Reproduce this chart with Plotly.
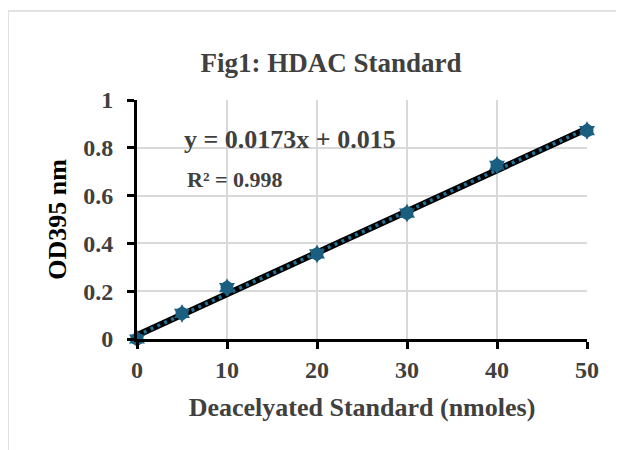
import plotly.graph_objects as go

x_vals = [0, 5, 10, 20, 30, 40, 50]
y_vals = [0, 0.107, 0.215, 0.356, 0.527, 0.727, 0.872]
slope = 0.0173
intercept = 0.015
x_ticks = [0, 10, 20, 30, 40, 50]
y_ticks = [0, 0.2, 0.4, 0.6, 0.8, 1]
y_tick_text = ["0", "0.2", "0.4", "0.6", "0.8", "1"]

FONT = "Liberation Serif"
W, H = 624, 450
L, R, T, B = 129, 45, 92, 119
pw, ph = W - L - R, H - T - B

fit_x = [min(x_vals), max(x_vals)]
fit_y = [slope * v + intercept for v in fit_x]

MC = "#1B5F80"
fig = go.Figure()
fig.add_trace(go.Scatter(x=fit_x, y=fit_y, mode="lines", cliponaxis=False,
                         line=dict(color="black", width=6.5), hoverinfo="skip", showlegend=False))
fig.add_trace(go.Scatter(x=fit_x, y=fit_y, mode="lines", cliponaxis=False,
                         line=dict(color="#24739A", width=3.5, dash="3px,4.5px"), hoverinfo="skip", showlegend=False))
fig.add_trace(go.Scatter(x=x_vals, y=y_vals, mode="markers", cliponaxis=False,
                         marker=dict(symbol="circle", size=13, color=MC, line=dict(width=0)),
                         hoverinfo="skip", showlegend=False))
fig.add_trace(go.Scatter(x=x_vals, y=y_vals, mode="markers", cliponaxis=False,
                         marker=dict(symbol="hexagram", size=14, color=MC, line=dict(width=0)),
                         showlegend=False))

fig.update_layout(
    width=W, height=H,
    margin=dict(l=L, r=R, t=T, b=B),
    paper_bgcolor="white", plot_bgcolor="white",
    title=dict(text="<b>Fig1: HDAC Standard</b>", x=323 / W, xanchor="center",
               y=1 - 55 / H, yanchor="middle",
               font=dict(family=FONT, size=27, color="#404040")),
    font=dict(family=FONT),
)
fig.update_xaxes(range=[0, 50], tickvals=x_ticks, ticktext=[f"<b>{v}</b>" for v in x_ticks],
                 showgrid=True, gridcolor="#d9d9d9", gridwidth=1.5,
                 showline=True, linecolor="black", linewidth=3,
                 ticks="outside", ticklen=7, tickwidth=3, tickcolor="black",
                 tickfont=dict(family=FONT, size=24, color="#404040"),
                 zeroline=False,
                 title=dict(text="<b>Deacelyated Standard (nmoles)</b>",
                            font=dict(family=FONT, size=26, color="#404040"), standoff=17))
fig.update_yaxes(range=[0, 1], tickvals=y_ticks, ticktext=[f"<b>{t}</b>" for t in y_tick_text],
                 showgrid=True, gridcolor="#d9d9d9", gridwidth=1.5,
                 showline=True, linecolor="black", linewidth=3,
                 ticks="outside", ticklen=7, tickwidth=3, tickcolor="black",
                 ticklabelstandoff=9,
                 tickfont=dict(family=FONT, size=24, color="#404040"),
                 zeroline=False,
                 title=dict(text="<b>OD395 nm</b>",
                            font=dict(family=FONT, size=26, color="black"), standoff=10))

fig.add_annotation(text="<b>y = 0.0173x + 0.015</b>", xref="paper", yref="paper",
                   x=(174 - L) / pw, y=(331 - 131) / ph, xanchor="left", yanchor="middle",
                   showarrow=False, font=dict(family=FONT, size=26, color="#404040"))
fig.add_annotation(text="<b>R² = 0.998</b>", xref="paper", yref="paper",
                   x=(177 - L) / pw, y=(331 - 171) / ph, xanchor="left", yanchor="middle",
                   showarrow=False, font=dict(family=FONT, size=22, color="#404040"))

fig.add_shape(type="rect", xref="paper", yref="paper",
              x0=(0 - L) / pw, x1=(700 - L) / pw, y0=(331 - 470) / ph, y1=(331 - 3) / ph,
              line=dict(color="#d9d9d9", width=1.5), fillcolor="rgba(0,0,0,0)", layer="below")

fig.write_html("out.html")
